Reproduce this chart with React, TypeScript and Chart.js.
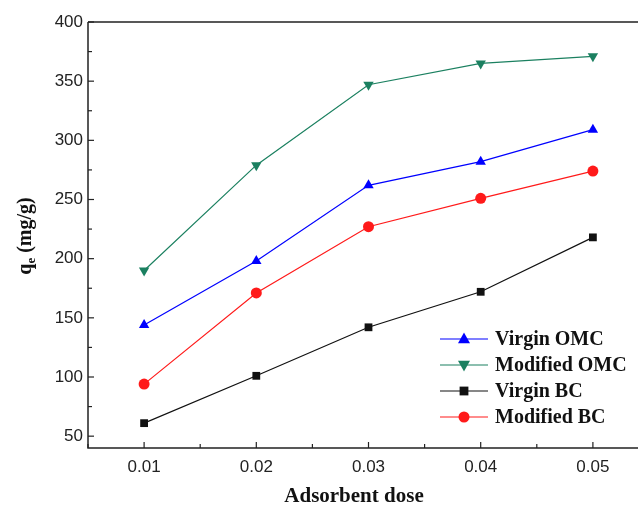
import React, { useEffect, useRef } from "react";
import { Chart, registerables } from "chart.js";
Chart.register(...registerables);

const doses = [0.01, 0.02, 0.03, 0.04, 0.05];
const virginOMC = [144, 198, 262, 282, 309];
const modifiedOMC = [190, 279, 347, 365, 371];
const virginBC = [61, 101, 142, 172, 218];
const modifiedBC = [94, 171, 227, 251, 274];
const seriesNames = ["Virgin OMC", "Modified OMC", "Virgin BC", "Modified BC"];
const xTickLabels = ["0.01", "0.02", "0.03", "0.04", "0.05"];

const SERIF = "'Liberation Serif', 'Times New Roman', serif";
const SANS = "'Liberation Sans', Arial, sans-serif";

function drawMarker(ctx: any, style: string, rot: number, r: number, x: number, y: number) {
  ctx.save();
  ctx.translate(x, y);
  ctx.rotate((rot * Math.PI) / 180);
  ctx.beginPath();
  if (style === "triangle") {
    ctx.moveTo(0, -r * 1.1);
    ctx.lineTo(r, r * 0.7);
    ctx.lineTo(-r, r * 0.7);
    ctx.closePath();
  } else if (style === "rect") {
    ctx.rect(-r * 0.8, -r * 0.8, r * 1.6, r * 1.6);
  } else {
    ctx.arc(0, 0, r, 0, Math.PI * 2);
  }
  ctx.fill();
  ctx.restore();
}

const framePlugin = {
  id: "frame",
  afterDraw(chart: any) {
    const ctx = chart.ctx;
    const { left, right, top, bottom } = chart.chartArea;
    const xs = chart.scales.x;
    const ys = chart.scales.y;
    ctx.save();
    ctx.strokeStyle = "#222";
    ctx.lineWidth = 1.5;
    ctx.beginPath();
    ctx.moveTo(left, top);
    ctx.lineTo(right + 2, top);
    ctx.moveTo(left, top);
    ctx.lineTo(left, bottom);
    ctx.lineTo(right + 2, bottom);
    ctx.stroke();
    ctx.lineWidth = 1.2;
    for (let v = 0.005; v <= 0.0551; v += 0.005) {
      const px = xs.getPixelForValue(v);
      const major = Math.round(v * 1000) % 10 === 0;
      const len = major ? 6 : 4;
      ctx.beginPath();
      ctx.moveTo(px, bottom);
      ctx.lineTo(px, bottom - len);
      ctx.stroke();
    }
    for (let v = 50; v <= 400; v += 25) {
      const py = ys.getPixelForValue(v);
      const major = v % 50 === 0;
      const len = major ? 6 : 4;
      ctx.beginPath();
      ctx.moveTo(left, py);
      ctx.lineTo(left + len, py);
      ctx.stroke();
    }
    ctx.fillStyle = "#111";
    ctx.font = `bold 21px ${SERIF}`;
    ctx.textAlign = "center";
    ctx.textBaseline = "middle";
    ctx.fillText("Adsorbent dose", 354, 497);
    ctx.translate(26, 236);
    ctx.rotate(-Math.PI / 2);
    ctx.textAlign = "left";
    const p1 = "q";
    const p2 = "e";
    const p3 = " (mg/g)";
    ctx.font = `bold 20px ${SERIF}`;
    const w1 = ctx.measureText(p1).width;
    ctx.font = `bold 13px ${SERIF}`;
    const w2 = ctx.measureText(p2).width;
    ctx.font = `bold 20px ${SERIF}`;
    const w3 = ctx.measureText(p3).width;
    const x0 = -(w1 + w2 + w3) / 2;
    ctx.fillText(p1, x0, 0);
    ctx.font = `bold 13px ${SERIF}`;
    ctx.fillText(p2, x0 + w1, 6);
    ctx.font = `bold 20px ${SERIF}`;
    ctx.fillText(p3, x0 + w1 + w2, 0);
    ctx.restore();

    ctx.save();
    const rows = [339, 365, 391, 417];
    chart.data.datasets.forEach((ds: any, i: number) => {
      const y = rows[i];
      ctx.strokeStyle = ds.borderColor;
      ctx.lineWidth = 1.2;
      ctx.beginPath();
      ctx.moveTo(440, y);
      ctx.lineTo(488, y);
      ctx.stroke();
      ctx.fillStyle = ds.pointBackgroundColor;
      drawMarker(ctx, ds.pointStyle, ds.pointRotation || 0, ds.pointRadius, 464, y);
      ctx.fillStyle = "#111";
      ctx.font = `bold 20px ${SERIF}`;
      ctx.textAlign = "left";
      ctx.textBaseline = "middle";
      ctx.fillText(ds.label, 495, y + 1);
    });
    ctx.restore();
  },
};

export default function App() {
  const ref = useRef<HTMLCanvasElement>(null);
  useEffect(() => {
    document.body.style.margin = "0";
    document.body.style.overflow = "hidden";
    document.body.style.background = "#fff";
    const mk = (vals: number[]) => doses.map((d, i) => ({ x: d, y: vals[i] }));
    const colors = ["#0000ff", "#1b8060", "#111111", "#ff1a1a"];
    const styles = ["triangle", "triangle", "rect", "circle"];
    const rots = [0, 180, 0, 0];
    const radii = [6, 6, 5.5, 5.5];
    const all = [virginOMC, modifiedOMC, virginBC, modifiedBC];
    const chart = new Chart(ref.current!, {
      type: "line",
      data: {
        datasets: all.map((vals, i) => ({
          label: seriesNames[i],
          data: mk(vals),
          borderColor: colors[i],
          backgroundColor: colors[i],
          pointBackgroundColor: colors[i],
          pointBorderColor: colors[i],
          pointStyle: styles[i] as any,
          pointRotation: rots[i],
          pointRadius: radii[i],
          pointBorderWidth: 0,
          borderWidth: 1.2,
          tension: 0,
        })),
      },
      options: {
        animation: false,
        responsive: false,
        maintainAspectRatio: false,
        layout: { padding: { top: 22, right: 11, left: 0, bottom: 0 } },
        plugins: { legend: { display: false }, tooltip: { enabled: false } },
        scales: {
          x: {
            type: "linear",
            min: 0.005,
            max: 0.055,
            afterFit: (s: any) => { s.height = 58; },
            afterBuildTicks: (s: any) => {
              s.ticks = doses.map((v) => ({ value: v }));
            },
            grid: { display: false, drawTicks: false },
            border: { display: false },
            ticks: {
              padding: 9,
              color: "#222",
              font: { family: SANS, size: 17 },
              callback: (v: any, i: number) => xTickLabels[i] ?? "",
              maxRotation: 0,
              autoSkip: false,
            },
          },
          y: {
            type: "linear",
            min: 40,
            max: 400,
            afterFit: (s: any) => { s.width = 88; },
            afterBuildTicks: (s: any) => {
              const t = [];
              for (let v = 50; v <= 400; v += 50) t.push({ value: v });
              s.ticks = t;
            },
            grid: { display: false, drawTicks: false },
            border: { display: false },
            ticks: {
              padding: 5,
              color: "#222",
              font: { family: SANS, size: 17 },
              autoSkip: false,
            },
          },
        },
      },
      plugins: [framePlugin],
    });
    return () => chart.destroy();
  }, []);
  return (
    <div style={{ position: "absolute", left: 0, top: 0, width: 660, height: 506, overflow: "hidden", background: "#fff" }}>
      <canvas ref={ref} width={660} height={506} style={{ display: "block" }} />
    </div>
  );
}
